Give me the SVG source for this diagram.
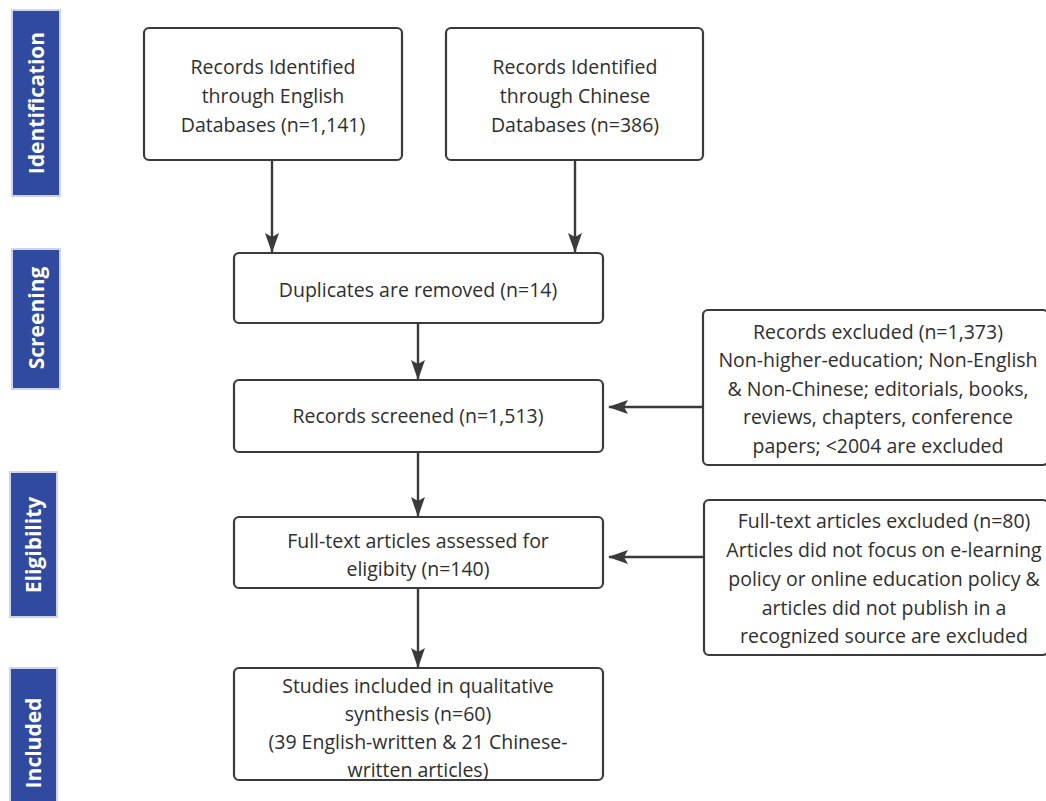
<svg xmlns="http://www.w3.org/2000/svg" width="1046" height="801" viewBox="0 0 1046 801">
<style>
.side{fill:#2f4a9f;stroke:#cdd3ee;stroke-width:2}
.st{fill:#ffffff;font-family:"Open Sans","Noto Sans",sans-serif;font-weight:bold;font-size:21px;text-anchor:middle}
.box{fill:#ffffff;stroke:#3a3a3a;stroke-width:2.2}
.t{fill:#2e2e2e;font-family:"Open Sans","Noto Sans",sans-serif;font-size:19.5px;text-anchor:middle}
.c{stroke:#3a3a3a;stroke-width:2.4;fill:none}
</style>
<defs>
<marker id="ah" markerWidth="20" markerHeight="14" refX="19" refY="7" orient="auto" markerUnits="userSpaceOnUse" viewBox="0 0 20 14">
<path d="M0,0 L20,7 L0,14 L4,7 z" fill="#3a3a3a"/>
</marker>
</defs>
<rect width="1046" height="801" fill="#ffffff"/>
<g id="stage-identification"><rect class="side" x="12" y="10" width="48" height="186"/><text class="st" transform="translate(44,103) rotate(-90)">Identification</text></g>
<g id="stage-screening"><rect class="side" x="12" y="249" width="48" height="140"/><text class="st" transform="translate(44,318) rotate(-90)">Screening</text></g>
<g id="stage-eligibility"><rect class="side" x="10" y="472" width="47" height="145"/><text class="st" transform="translate(41,545) rotate(-90)">Eligibility</text></g>
<g id="stage-included"><rect class="side" x="10" y="668" width="47" height="140"/><text class="st" transform="translate(41,743) rotate(-90)">Included</text></g>

<g id="connectors">
<line class="c" x1="272" y1="160" x2="272" y2="252" marker-end="url(#ah)"/>
<line class="c" x1="575" y1="160" x2="575" y2="252" marker-end="url(#ah)"/>
<line class="c" x1="418" y1="323" x2="418" y2="379" marker-end="url(#ah)"/>
<line class="c" x1="418" y1="452" x2="418" y2="516" marker-end="url(#ah)"/>
<line class="c" x1="418" y1="588" x2="418" y2="667" marker-end="url(#ah)"/>
<line class="c" x1="703" y1="407" x2="609" y2="407" marker-end="url(#ah)"/>
<line class="c" x1="704" y1="557" x2="609" y2="557" marker-end="url(#ah)"/>
</g>

<g id="english"><rect class="box" x="144" y="28" width="258" height="132" rx="5"/>
<text class="t" x="273" y="74">Records Identified</text><text class="t" x="273" y="103">through English</text><text class="t" x="273" y="132">Databases (n=1,141)</text></g>
<g id="chinese"><rect class="box" x="446" y="28" width="257" height="132" rx="5"/>
<text class="t" x="575" y="74">Records Identified</text><text class="t" x="575" y="103">through Chinese</text><text class="t" x="575" y="132">Databases (n=386)</text></g>
<g id="duplicates"><rect class="box" x="234" y="253" width="369" height="70" rx="5"/>
<text class="t" x="418" y="297">Duplicates are removed (n=14)</text></g>
<g id="screened"><rect class="box" x="234" y="380" width="369" height="72" rx="5"/>
<text class="t" x="418" y="423">Records screened (n=1,513)</text></g>
<g id="records-excluded"><rect class="box" x="703" y="310" width="345" height="155" rx="5"/>
<text class="t" x="878" y="339">Records excluded (n=1,373)</text>
<text class="t" x="878" y="367">Non-higher-education; Non-English</text>
<text class="t" x="878" y="396">&amp; Non-Chinese; editorials, books,</text>
<text class="t" x="878" y="424">reviews, chapters, conference</text>
<text class="t" x="878" y="453">papers; &lt;2004 are excluded</text></g>
<g id="fulltext"><rect class="box" x="234" y="517" width="369" height="71" rx="5"/>
<text class="t" x="418" y="548">Full-text articles assessed for</text>
<text class="t" x="418" y="576">eligibity (n=140)</text></g>
<g id="fulltext-excluded"><rect class="box" x="704" y="500" width="344" height="155" rx="5"/>
<text class="t" x="884" y="528">Full-text articles excluded (n=80)</text>
<text class="t" x="884" y="557">Articles did not focus on e-learning</text>
<text class="t" x="884" y="586">policy or online education policy &amp;</text>
<text class="t" x="884" y="615">articles did not publish in a</text>
<text class="t" x="884" y="643">recognized source are excluded</text></g>
<g id="included"><rect class="box" x="234" y="668" width="369" height="112" rx="5"/>
<text class="t" x="418" y="693">Studies included in qualitative</text>
<text class="t" x="418" y="721">synthesis (n=60)</text>
<text class="t" x="418" y="749">(39 English-written &amp; 21 Chinese-</text>
<text class="t" x="418" y="777">written articles)</text></g>
</svg>
